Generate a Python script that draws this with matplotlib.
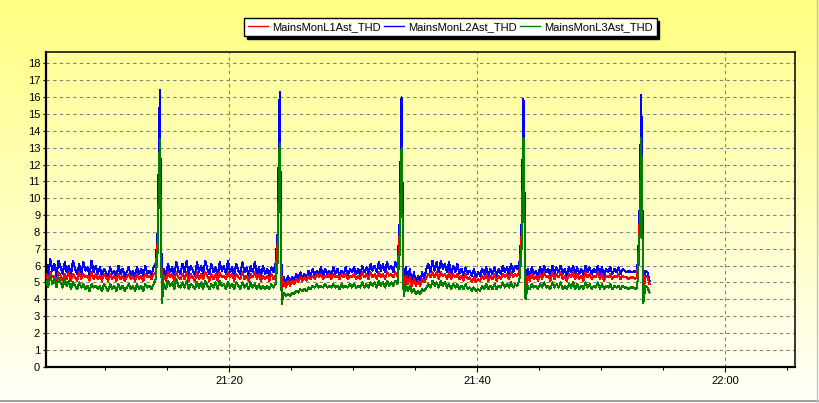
import datetime as dt
import numpy as np
import pandas as pd
import matplotlib
matplotlib.use("Agg")
import matplotlib.pyplot as plt
import matplotlib.dates as mdates
from matplotlib.lines import Line2D

plt.rcParams['font.family'] = ['Liberation Sans', 'DejaVu Sans']

# one reading every 10 s starting 21:05:15
start = "2024-01-01 21:05:15"
step = "10s"

l1_thd = [
    5.5, 5.1, 5.6, 5.3, 5.4, 5.0, 5.6, 5.4, 5.1, 5.5, 5.2, 5.6, 5.1, 5.5, 5.3, 5.1, 5.6, 5.2, 5.5, 5.3, 5.4, 5.1, 5.6, 5.2, 5.5, 5.2,
    5.4, 5.1, 5.5, 5.3, 5.1, 5.5, 5.2, 5.4, 5.1, 5.5, 5.2, 5.4, 5.1, 5.3, 5.5, 5.2, 5.4, 5.1, 5.5, 5.2, 5.4, 5.1, 5.5, 5.3, 5.4, 5.2, 5.5, 5.6,
    7.5, 12.8, 4.4,
    5.4, 5.1, 5.6, 5.3, 5.5, 5.1, 5.6, 5.3, 5.2, 5.5, 5.2, 5.6, 5.1, 5.5, 5.3, 5.1, 5.6, 5.2, 5.5, 5.2,
    5.6, 5.4, 5.1, 5.5, 5.2, 5.5, 5.1, 5.6, 5.3, 5.4, 5.2, 5.6, 5.3, 5.5, 5.1, 5.5, 5.3, 5.2, 5.6, 5.2,
    5.4, 5.1, 5.5, 5.3, 5.6, 5.2, 5.5, 5.1, 5.4, 5.2, 5.4, 5.1, 5.5, 5.2, 5.4,
    7.3, 12.6, 4.6,
    5.0, 4.7, 5.1, 4.8, 5.1, 4.9, 5.2, 5.0, 5.3, 5.1, 5.3, 5.1, 5.4, 5.2,
    5.4, 5.2, 5.5, 5.3, 5.5, 5.2, 5.4, 5.3, 5.5, 5.2, 5.5, 5.3, 5.4, 5.2, 5.5, 5.3, 5.5, 5.2, 5.4, 5.3,
    5.5, 5.2, 5.4, 5.2, 5.6, 5.3, 5.5, 5.2, 5.6, 5.3, 5.5, 5.2, 5.6, 5.3, 5.5, 5.2, 5.6, 5.4, 5.5, 5.3, 5.6, 5.4,
    7.6, 12.9, 4.5,
    5.4, 4.9, 5.3, 4.8, 5.2, 4.8, 5.1, 4.8, 5.2, 5.0, 5.3,
    5.5, 5.3, 5.6, 5.3, 5.6, 5.2, 5.6, 5.4, 5.5, 5.2, 5.6, 5.2, 5.5, 5.3, 5.5, 5.2,
    5.4, 5.1, 5.5, 5.2, 5.3, 5.0, 5.3, 5.0, 5.2, 5.1, 5.4, 5.2, 5.5, 5.1, 5.4, 5.2, 5.5, 5.1, 5.4, 5.2,
    5.5, 5.3, 5.5, 5.2, 5.6, 5.3, 5.5, 5.4, 5.6,
    7.4, 12.9, 4.4,
    5.4, 5.1, 5.5, 5.2, 5.4, 5.1, 5.5, 5.2, 5.6, 5.3, 5.4, 5.1, 5.6, 5.2, 5.5, 5.3, 5.6, 5.2, 5.4, 5.1,
    5.5, 5.3, 5.6, 5.2, 5.5, 5.2, 5.4, 5.1, 5.6, 5.3, 5.5, 5.2, 5.4, 5.3, 5.6, 5.2, 5.5, 5.1, 5.4, 5.3,
    5.5, 5.2, 5.4, 5.3, 5.5, 5.2, 5.4,
    5.3, 5.3, 5.2, 5.3, 5.3, 5.2, 5.3,
    7.6, 12.9, 4.4,
    5.4, 5.3, 4.9,
]

l2_thd = [
    6.2, 5.5, 6.4, 5.7, 6.1, 5.4, 6.3, 5.9, 5.5, 6.2, 5.6, 6.0, 5.4, 6.3, 5.8, 5.5, 6.1, 5.4, 6.2, 5.7, 5.9, 5.4, 6.3, 5.6, 6.0, 5.5,
    5.9, 5.4, 5.8, 5.6, 5.3, 5.9, 5.5, 5.7, 5.3, 6.0, 5.5, 5.8, 5.4, 5.6, 5.9, 5.4, 5.7, 5.3, 5.9, 5.5, 5.8, 5.4, 6.0, 5.5, 5.7, 5.4, 5.9, 6.1,
    8.1, 16.4, 4.7,
    5.8, 5.4, 6.1, 5.6, 5.9, 5.4, 6.2, 5.7, 5.5, 6.1, 5.6, 6.3, 5.5, 6.0, 5.7, 5.4, 6.2, 5.6, 6.0, 5.5,
    6.3, 5.8, 5.5, 6.1, 5.6, 5.9, 5.4, 6.2, 5.7, 6.0, 5.5, 6.3, 5.6, 5.9, 5.4, 6.1, 5.7, 5.5, 6.2, 5.6,
    5.9, 5.4, 6.0, 5.6, 6.2, 5.5, 5.9, 5.4, 6.0, 5.5, 5.8, 5.4, 5.9, 5.6, 6.1,
    7.9, 16.3, 4.9,
    5.3, 4.9, 5.4, 5.0, 5.3, 5.1, 5.5, 5.2, 5.6, 5.3, 5.5, 5.2, 5.7, 5.4,
    5.8, 5.4, 5.7, 5.5, 5.9, 5.4, 5.8, 5.5, 5.7, 5.4, 5.9, 5.5, 5.8, 5.4, 5.7, 5.5, 5.9, 5.4, 5.8, 5.6,
    5.9, 5.5, 5.8, 5.4, 6.0, 5.6, 5.9, 5.5, 6.1, 5.7, 6.0, 5.6, 6.2, 5.7, 6.1, 5.6, 6.2, 5.8, 6.0, 5.6, 6.2, 5.9,
    8.3, 16.0, 4.8,
    5.9, 5.2, 5.8, 5.0, 5.6, 4.9, 5.4, 5.0, 5.6, 5.2, 5.8,
    6.1, 5.6, 6.3, 5.7, 6.2, 5.6, 6.3, 5.8, 6.1, 5.6, 6.2, 5.5, 6.0, 5.6, 6.1, 5.5,
    5.8, 5.4, 5.9, 5.5, 5.7, 5.4, 5.8, 5.3, 5.6, 5.4, 5.8, 5.5, 5.9, 5.4, 5.8, 5.5, 5.9, 5.4, 5.8, 5.5,
    6.0, 5.6, 5.9, 5.5, 6.1, 5.6, 6.0, 5.8, 6.1,
    8.0, 15.9, 4.6,
    5.8, 5.4, 5.9, 5.5, 5.7, 5.4, 5.9, 5.5, 6.0, 5.6, 5.8, 5.4, 6.0, 5.5, 5.9, 5.6, 6.0, 5.5, 5.8, 5.4,
    5.9, 5.6, 6.0, 5.5, 5.9, 5.5, 5.8, 5.4, 6.0, 5.6, 5.9, 5.5, 5.8, 5.6, 6.0, 5.5, 5.9, 5.4, 5.8, 5.6,
    5.9, 5.5, 5.8, 5.6, 5.9, 5.5, 5.8,
    5.7, 5.6, 5.7, 5.6, 5.6, 5.7, 5.6,
    8.0, 16.1, 4.6,
    5.7, 5.6, 5.1,
]

l3_thd = [
    5.1, 4.7, 5.4, 4.9, 5.2, 4.7, 5.3, 5.0, 4.7, 5.2, 4.8, 5.1, 4.6, 5.0, 4.8, 4.6, 5.0, 4.7, 4.9, 4.6, 4.8, 4.5, 4.9, 4.7, 4.8, 4.6,
    4.8, 4.5, 4.9, 4.7, 4.5, 4.9, 4.6, 4.8, 4.5, 4.9, 4.6, 4.8, 4.5, 4.7, 4.9, 4.6, 4.8, 4.5, 4.9, 4.6, 4.8, 4.5, 4.9, 4.7, 4.8, 4.6, 4.9, 5.2,
    6.9, 13.5, 3.8,
    4.9, 4.6, 5.1, 4.8, 5.0, 4.6, 5.2, 4.8, 4.7, 5.0, 4.7, 5.1, 4.6, 4.9, 4.8, 4.6, 5.0, 4.7, 5.0, 4.6,
    5.1, 4.8, 4.6, 4.9, 4.7, 5.0, 4.6, 5.1, 4.8, 4.9, 4.6, 5.0, 4.7, 4.9, 4.6, 5.0, 4.8, 4.6, 5.0, 4.7,
    4.9, 4.6, 5.0, 4.7, 4.9, 4.6, 4.9, 4.6, 4.8, 4.6, 4.8, 4.6, 4.9, 4.7, 4.9,
    6.2, 13.3, 3.7,
    4.4, 4.2, 4.3, 4.2, 4.4, 4.3, 4.5, 4.4, 4.6, 4.5, 4.6, 4.5, 4.7, 4.6,
    4.8, 4.7, 4.9, 4.7, 4.8, 4.7, 4.9, 4.7, 4.8, 4.7, 4.9, 4.7, 4.8, 4.6, 4.9, 4.7, 4.8, 4.7, 4.9, 4.7,
    4.9, 4.7, 4.8, 4.7, 5.0, 4.7, 4.9, 4.7, 5.0, 4.8, 5.0, 4.7, 5.1, 4.8, 5.0, 4.7, 5.1, 4.8, 5.0, 4.8, 5.1, 4.9,
    6.6, 13.0, 4.2,
    4.9, 4.5, 4.8, 4.4, 4.6, 4.3, 4.5, 4.3, 4.6, 4.5, 4.7,
    4.9, 4.7, 5.1, 4.8, 5.0, 4.7, 5.1, 4.8, 5.0, 4.7, 4.9, 4.6, 4.9, 4.7, 4.9, 4.6,
    4.8, 4.6, 4.9, 4.6, 4.7, 4.5, 4.7, 4.5, 4.6, 4.5, 4.8, 4.6, 4.9, 4.6, 4.8, 4.6, 4.9, 4.6, 4.8, 4.7,
    5.0, 4.7, 4.9, 4.7, 5.0, 4.7, 4.9, 4.8, 5.1,
    6.7, 13.6, 4.0,
    4.8, 4.6, 4.9, 4.7, 4.8, 4.6, 4.9, 4.7, 5.0, 4.7, 4.8, 4.6, 5.0, 4.7, 4.9, 4.7, 5.0, 4.6, 4.8, 4.6,
    4.9, 4.7, 5.0, 4.6, 4.9, 4.6, 4.8, 4.6, 5.0, 4.7, 4.9, 4.6, 4.8, 4.7, 5.0, 4.6, 4.9, 4.6, 4.8, 4.7,
    4.9, 4.6, 4.8, 4.7, 4.8, 4.6, 4.8,
    4.7, 4.7, 4.6, 4.7, 4.7, 4.6, 4.7,
    6.7, 13.6, 3.8,
    4.8, 4.7, 4.4,
]

names = ["MainsMonL1Ast_THD", "MainsMonL2Ast_THD", "MainsMonL3Ast_THD"]
colors = ["#ff0000", "#0000ff", "#008000"]
draw_order = {0: 3, 1: 2, 2: 4}  # red over blue, green on top

x_min = dt.datetime(2024, 1, 1, 21, 5, 13)
x_max = dt.datetime(2024, 1, 1, 22, 5, 39)

fig = plt.figure(figsize=(8.19, 4.03), dpi=100)

# yellow gradient background of the whole window
bg = fig.add_axes([0, 0, 1, 1], zorder=-2)
grad = np.linspace(0, 1, 256).reshape(-1, 1)
fig_top = np.array([1.0, 1.0, 0.50])
fig_bot = np.array([1.0, 1.0, 0.98])
bg.imshow(fig_top + grad[:, :, None] * (fig_bot - fig_top), aspect='auto', extent=[0, 1, 0, 1])
bg.axis('off')

pos = [0.0558, 0.0901, 0.9149, 0.7801]
pbg = fig.add_axes(pos, zorder=-1)
ax_top = np.array([1.0, 1.0, 0.60])
ax_bot = np.array([1.0, 1.0, 0.95])
pbg.imshow(ax_top + grad[:, :, None] * (ax_bot - ax_top), aspect='auto', extent=[0, 1, 0, 1])
pbg.axis('off')

ax = fig.add_axes(pos, zorder=1)
ax.set_facecolor('none')

handles = []
for k, vals in enumerate([l1_thd, l2_thd, l3_thd]):
    t = pd.date_range(start, periods=len(vals), freq=step)
    h, = ax.plot(t, vals, color=colors[k], lw=0.75, label=names[k],
                 zorder=draw_order[k], antialiased=False)
    handles.append(h)

ax.set_xlim(x_min, x_max)
ax.set_ylim(0, 18.66)
ax.set_yticks(range(0, 19))
ax.xaxis.set_major_locator(mdates.MinuteLocator(byminute=[0, 20, 40]))
ax.xaxis.set_minor_locator(mdates.MinuteLocator(byminute=range(0, 60, 5)))
ax.xaxis.set_major_formatter(mdates.DateFormatter('%H:%M'))

ax.grid(True, which='major', color='#808080', linestyle=(0, (3, 3)), linewidth=0.8)
ax.tick_params(axis='y', labelsize=8, length=2.5, width=0.8, pad=1.5)
ax.tick_params(axis='x', which='major', labelsize=8, length=3.6, width=0.8, pad=3)
ax.tick_params(axis='x', which='minor', length=2.2, width=0.8)

for side in ['left', 'bottom']:
    ax.spines[side].set_linewidth(1.6)
for side in ['top', 'right']:
    ax.spines[side].set_linewidth(1.1)

leg = ax.legend(handles=handles, loc='center', bbox_to_anchor=(0.550, 0.933),
                bbox_transform=fig.transFigure, ncol=3, fontsize=8, handlelength=1.8,
                handletextpad=0.36, columnspacing=0.3, borderpad=0.35, borderaxespad=0,
                fancybox=False, framealpha=1, edgecolor='black',
                shadow={'color': 'black', 'alpha': 1})
leg.get_frame().set_linewidth(1.0)
for h in leg.get_lines():
    h.set_linewidth(1.0)
    h.set_antialiased(True)

# window border at bottom and right
fig.add_artist(Line2D([0, 1], [0.004, 0.004], transform=fig.transFigure, color='#a0a0a0', lw=1.5))
fig.add_artist(Line2D([0.998, 0.998], [0, 1], transform=fig.transFigure, color='#c0c0c0', lw=1))

fig.savefig('out.png', dpi=100)
